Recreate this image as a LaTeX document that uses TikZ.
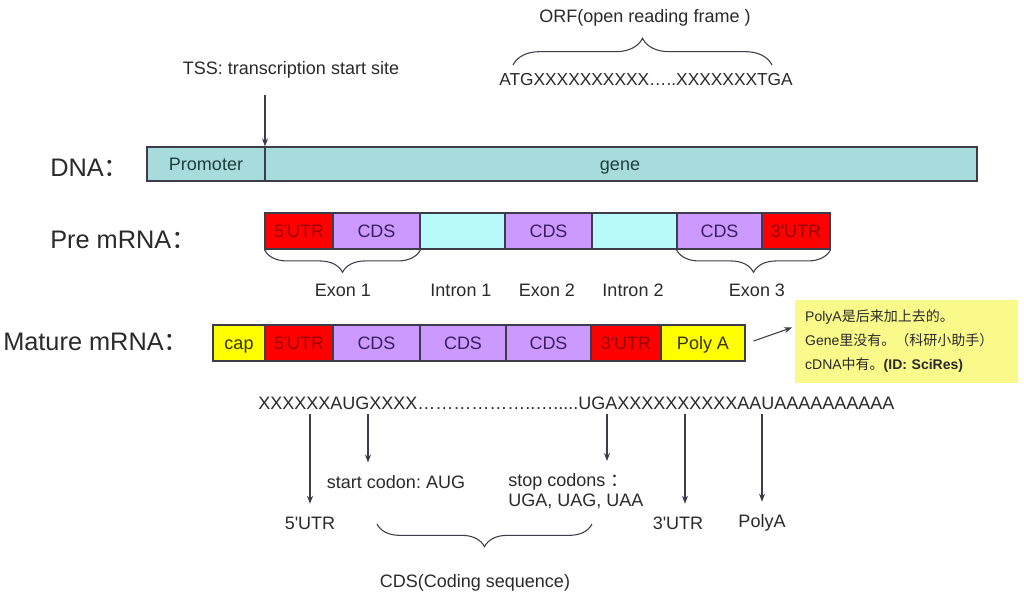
\documentclass[tikz,border=0pt]{standalone}
\usepackage{fontspec}
\newfontfamily\arialf{Liberation Sans}
\newfontfamily\cjk{Noto Sans CJK SC}
\usetikzlibrary{decorations.pathreplacing,arrows.meta}
\frenchspacing
\newcommand\myell{…}
\definecolor{dnacol}{HTML}{A8DCDC}
\definecolor{introncol}{HTML}{B8FAFA}
\definecolor{cdscol}{HTML}{CC99FF}
\definecolor{utrcol}{HTML}{FF0000}
\definecolor{capcol}{HTML}{FFFF00}
\definecolor{notecol}{HTML}{FAFA8A}
\definecolor{linecol}{HTML}{3C3C4A}
\definecolor{txtcol}{HTML}{2A2A2A}
\definecolor{utrtxt}{HTML}{9A0000}
\definecolor{cdstxt}{HTML}{3A2060}
\definecolor{captxt}{HTML}{333300}
\definecolor{dnatxt}{HTML}{1F3D3D}
\tikzset{
  txt/.style={font=\arialf\fontsize{13.5}{16}\selectfont, text=txtcol},
  cell/.style={draw=linecol, line width=0.9pt, minimum height=27pt, inner sep=0pt,
    text height=12pt, text depth=2.3pt,
    font=\arialf\fontsize{13.5}{16}\selectfont},
  utr/.style={cell, fill=utrcol, text=utrtxt},
  cds/.style={cell, fill=cdscol, text=cdstxt},
  intron/.style={cell, fill=introncol},
  capbox/.style={cell, fill=capcol, text=captxt},
  biglabel/.style={font=\arialf\fontsize{19}{22}\selectfont, text=txtcol, anchor=west, inner sep=0pt},
  botlab/.style={txt, inner xsep=0pt, inner ysep=9.5pt},
  arr/.style={-{Stealth[length=6pt,width=4.5pt]}, line width=0.8pt, draw=linecol},
  brc/.style={decorate, decoration={brace, amplitude=#1}, line width=0.8pt, draw=linecol},
}
\begin{document}
\begin{tikzpicture}[x=0.75pt,y=-0.75pt]
\useasboundingbox[fill=white] (0,0) rectangle (1024,601);

% ORF
\node[txt] (orf) at (645,18) {ORF(open reading frame )};
\node[txt, font=\arialf\fontsize{13}{16}\selectfont] (orfseq) at (646,80) {ATGXXXXXXXXXX\myell..XXXXXXXTGA};
\coordinate (orfL) at (513,65);
\coordinate (orfR) at (772,65);
\draw[brc=20pt] (orfL) -- (orfR);

% TSS
\node[txt] (tss) at (291,70) {TSS: transcription start site};
\coordinate (tsstop) at (265,95);

% DNA
\node[biglabel] (ldna) at (50,168) {DNA{\cjk ：}};
\node[cell, fill=dnacol, minimum width=622.5pt, minimum height=25.5pt] (dna) at (562,164) {};
\node[cell, draw=none, text=dnatxt] (prom) at (206,164) {Promoter};
\node[cell, draw=none, text=dnatxt] (gene) at (620,164) {gene};
\draw[arr] (tsstop) -- (tsstop |- dna.north);
\draw[line width=0.9pt, draw=linecol] (tsstop |- dna.north) -- (tsstop |- dna.south);

% Pre mRNA
\node[biglabel] (lpre) at (50,240) {Pre mRNA{\cjk ：}};
\node[utr, minimum width=51pt] (p1) at (299,231) {5'UTR};
\node[cds, minimum width=65.25pt] (p2) at (376.5,231) {CDS};
\node[intron, minimum width=63.75pt] (p3) at (462.5,231) {};
\node[cds, minimum width=65.25pt] (p4) at (548.5,231) {CDS};
\node[intron, minimum width=63.75pt] (p5) at (634.5,231) {};
\node[cds, minimum width=63.75pt] (p6) at (719.5,231) {CDS};
\node[utr, minimum width=51pt] (p7) at (796,231) {3'UTR};
\draw[brc=17pt] (p2.south east) -- (p1.south west);
\draw[brc=17pt] (p7.south east) -- (p6.south west);
\node[txt] (ex1) at (343,290) {Exon 1};
\node[txt] (in1) at (461,290) {Intron 1};
\node[txt] (ex2) at (547,290) {Exon 2};
\node[txt] (in2) at (633,290) {Intron 2};
\node[txt] (ex3) at (757,290) {Exon 3};

% Mature mRNA
\node[biglabel] (lmat) at (3,342) {Mature mRNA{\cjk ：}};
\node[capbox, minimum width=39pt] (m1) at (239,343) {cap};
\node[utr, minimum width=51pt] (m2) at (299,343) {5'UTR};
\node[cds, minimum width=65.25pt] (m3) at (376.5,343) {CDS};
\node[cds, minimum width=64.5pt] (m4) at (463,343) {CDS};
\node[cds, minimum width=63.75pt] (m5) at (548.5,343) {CDS};
\node[utr, minimum width=52.5pt] (m6) at (626,343) {3'UTR};
\node[capbox, minimum width=63pt] (m7) at (703,343) {Poly A};

% note
\node[fill=notecol, minimum width=167.25pt, minimum height=62.25pt, text width=152pt,
  inner xsep=7pt, align=left, font=\arialf\fontsize{10.5}{18}\selectfont, text=txtcol] (note) at (906.5,341.5)
  {PolyA{\cjk 是后来加上去的。}\\Gene{\cjk 里没有。（科研小助手）}\\cDNA{\cjk 中有。}{\bfseries (ID: SciRes)}};
\draw[arr] ([xshift=6pt,yshift=1.5pt]m7.east) -- ([xshift=-2pt,yshift=10.5pt]note.west);

% sequence
\node[txt, anchor=west, inner sep=0pt] (seq) at (258,403) {XXXXXXAUGXXXX\myell\myell\myell\myell\myell\myell..\myell.....UGAXXXXXXXXXXAAUAAAAAAAAAA};
\coordinate (a1) at (310,414);
\coordinate (a2) at (368,414);
\coordinate (a3) at (607,414);
\coordinate (a4) at (685,414);
\coordinate (a5) at (762,414);

\node[botlab] (l5) at (310,523) {5'UTR};
\node[botlab] (lstart) at (396,482) {start codon: AUG};
\node[botlab, align=left, anchor=north west, font=\arialf\fontsize{13.5}{15}\selectfont] (lstop) at (508,461) {stop codons {\cjk ：}\\UGA, UAG, UAA};
\node[botlab] (l3) at (678,523) {3'UTR};
\node[botlab] (lpa) at (762,523) {PolyA};

\draw[arr] (a1) -- (a1 |- l5.north);
\draw[arr] (a2) -- (a2 |- lstart.north);
\draw[arr] (a3) -- (a3 |- lstop.north);
\draw[arr] (a4) -- (a4 |- l3.north);
\draw[arr] (a5) -- (a5 |- lpa.north);

\coordinate (cdsL) at (377,524);
\coordinate (cdsR) at (592,524);
\draw[brc=17pt] (cdsR) -- (cdsL);
\node[txt] (cdslab) at (475,583) {CDS(Coding sequence)};
\end{tikzpicture}
\end{document}
